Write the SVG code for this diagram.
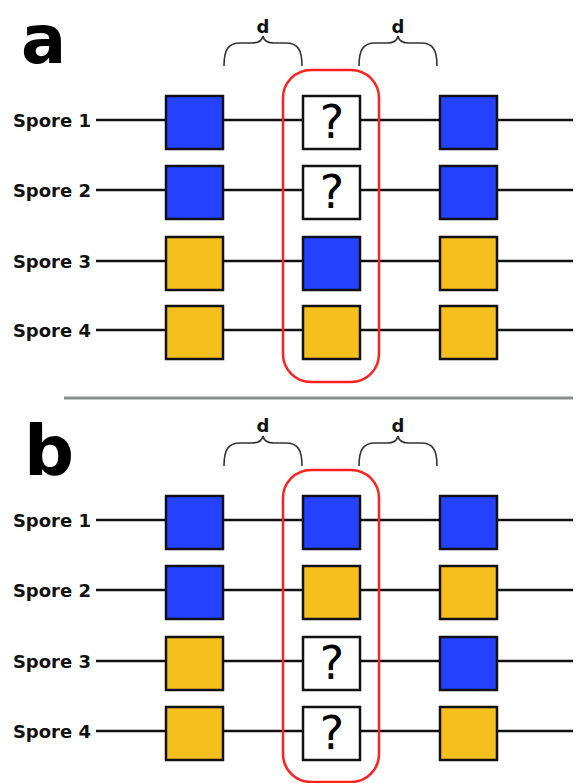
<svg xmlns="http://www.w3.org/2000/svg" width="584" height="783" viewBox="0 0 584 783">
  <style>
    .panel { font-family: "DejaVu Sans", "Liberation Sans", sans-serif; font-weight: bold; fill: #000; }
    .lab { font-family: "DejaVu Sans", "Liberation Sans", sans-serif; font-weight: bold; font-size: 18px; fill: #111; text-anchor: end; }
    .d { font-family: "DejaVu Sans", "Liberation Sans", sans-serif; font-weight: bold; font-size: 18px; fill: #111; text-anchor: middle; }
    .q { font-family: "DejaVu Sans", "Liberation Sans", sans-serif; font-size: 46px; fill: #000; text-anchor: middle; }
    .wire { stroke: #111; stroke-width: 2.5; fill: none; }
    .brace { stroke: #333; stroke-width: 1.6; fill: none; }
    .sel { stroke: #ff2020; stroke-width: 2.5; fill: none; }
    .box { stroke: #111; stroke-width: 2.5; }
    .blue { fill: #2442ff; }
    .yel { fill: #f5bf1e; }
    .unk { fill: #fff; }
  </style>
  <defs>
    <path id="brace" class="brace" d="M0,30 C0,14 4,7 16,7 L28,7 C34,7 38,5 39,0 C40,5 44,7 50,7 L62,7 C74,7 78,14 78,30"/>
  </defs>

  <!-- separator between panels -->
  <line x1="64" y1="398" x2="573" y2="398" stroke="#8a8f8c" stroke-width="3"/>

  <!-- ===== Panel a ===== -->
  <g id="panel-a">
    <text class="panel" x="21" y="63" font-size="67">a</text>
    <g id="a-braces">
      <use href="#brace" x="224" y="36"/>
      <use href="#brace" x="359" y="36"/>
      <text class="d" x="263" y="33">d</text>
      <text class="d" x="398" y="33">d</text>
    </g>
    <g id="a-wires">
      <line class="wire" x1="96" y1="120" x2="573" y2="120"/>
      <line class="wire" x1="96" y1="190" x2="573" y2="190"/>
      <line class="wire" x1="96" y1="261" x2="573" y2="261"/>
      <line class="wire" x1="96" y1="330" x2="573" y2="330"/>
    </g>
    <g id="a-labels">
      <text class="lab" x="91" y="127">Spore 1</text>
      <text class="lab" x="91" y="197">Spore 2</text>
      <text class="lab" x="91" y="268">Spore 3</text>
      <text class="lab" x="91" y="337">Spore 4</text>
    </g>
    <g id="a-s1">
      <rect class="box blue" x="166" y="96" width="57" height="53"/>
      <rect class="box unk" x="303" y="96" width="57" height="53"/>
      <text class="q" x="332" y="138">?</text>
      <rect class="box blue" x="440" y="96" width="57" height="53"/>
    </g>
    <g id="a-s2">
      <rect class="box blue" x="166" y="166" width="57" height="53"/>
      <rect class="box unk" x="303" y="166" width="57" height="53"/>
      <text class="q" x="332" y="208">?</text>
      <rect class="box blue" x="440" y="166" width="57" height="53"/>
    </g>
    <g id="a-s3">
      <rect class="box yel" x="166" y="237" width="57" height="53"/>
      <rect class="box blue" x="303" y="237" width="57" height="53"/>
      <rect class="box yel" x="440" y="237" width="57" height="53"/>
    </g>
    <g id="a-s4">
      <rect class="box yel" x="166" y="306" width="57" height="53"/>
      <rect class="box yel" x="303" y="306" width="57" height="53"/>
      <rect class="box yel" x="440" y="306" width="57" height="53"/>
    </g>
    <rect id="a-select" class="sel" x="283" y="70" width="96" height="312" rx="28"/>
  </g>

  <!-- ===== Panel b ===== -->
  <g id="panel-b">
    <text class="panel" x="24" y="475" font-size="70">b</text>
    <g id="b-braces">
      <use href="#brace" x="224" y="436"/>
      <use href="#brace" x="359" y="436"/>
      <text class="d" x="263" y="432">d</text>
      <text class="d" x="398" y="432">d</text>
    </g>
    <g id="b-wires">
      <line class="wire" x1="96" y1="520" x2="573" y2="520"/>
      <line class="wire" x1="96" y1="590" x2="573" y2="590"/>
      <line class="wire" x1="96" y1="661" x2="573" y2="661"/>
      <line class="wire" x1="96" y1="731" x2="573" y2="731"/>
    </g>
    <g id="b-labels">
      <text class="lab" x="91" y="527">Spore 1</text>
      <text class="lab" x="91" y="597">Spore 2</text>
      <text class="lab" x="91" y="668">Spore 3</text>
      <text class="lab" x="91" y="738">Spore 4</text>
    </g>
    <g id="b-s1">
      <rect class="box blue" x="166" y="496" width="57" height="53"/>
      <rect class="box blue" x="303" y="496" width="57" height="53"/>
      <rect class="box blue" x="440" y="496" width="57" height="53"/>
    </g>
    <g id="b-s2">
      <rect class="box blue" x="166" y="566" width="57" height="53"/>
      <rect class="box yel" x="303" y="566" width="57" height="53"/>
      <rect class="box yel" x="440" y="566" width="57" height="53"/>
    </g>
    <g id="b-s3">
      <rect class="box yel" x="166" y="637" width="57" height="53"/>
      <rect class="box unk" x="303" y="637" width="57" height="53"/>
      <text class="q" x="332" y="679">?</text>
      <rect class="box blue" x="440" y="637" width="57" height="53"/>
    </g>
    <g id="b-s4">
      <rect class="box yel" x="166" y="707" width="57" height="53"/>
      <rect class="box unk" x="303" y="707" width="57" height="53"/>
      <text class="q" x="332" y="749">?</text>
      <rect class="box yel" x="440" y="707" width="57" height="53"/>
    </g>
    <rect id="b-select" class="sel" x="283" y="470" width="96" height="312" rx="28"/>
  </g>
</svg>
